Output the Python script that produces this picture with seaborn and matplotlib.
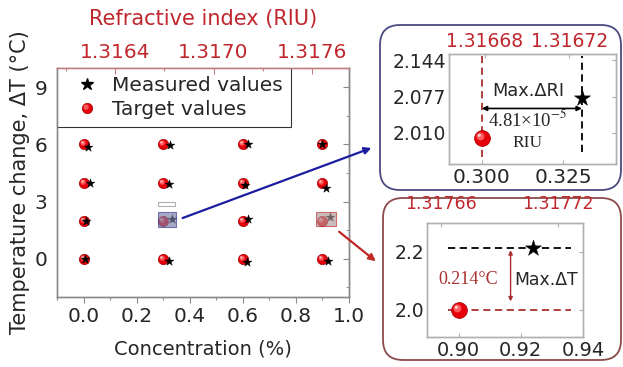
import numpy as np
import pandas as pd
import seaborn as sns
import matplotlib
matplotlib.use("Agg")
import matplotlib.pyplot as plt
from matplotlib.markers import MarkerStyle
from matplotlib.transforms import Affine2D
from matplotlib.patches import FancyBboxPatch, Rectangle, FancyArrowPatch
from matplotlib.lines import Line2D
from matplotlib.legend_handler import HandlerTuple
from matplotlib.ticker import MultipleLocator

# ---------------- data ----------------
target_conc = [0.0, 0.3, 0.6, 0.9] * 4
target_temp = [0] * 4 + [2] * 4 + [4] * 4 + [6] * 4
meas_conc = [0.005, 0.321, 0.615, 0.922,
             0.011, 0.333, 0.621, 0.928,
             0.024, 0.321, 0.609, 0.914,
             0.018, 0.327, 0.618, 0.900]
meas_temp = [0.00, -0.10, -0.15, -0.12,
             2.00, 2.07, 2.10, 2.20,
             4.00, 3.91, 3.88, 3.73,
             5.88, 5.95, 6.03, 6.00]

main_xticks = [0.0, 0.2, 0.4, 0.6, 0.8, 1.0]
main_yticks = [0, 3, 6, 9]
ri_ticks = [1.3164, 1.3170, 1.3176]
ri_labels = ["1.3164", "1.3170", "1.3176"]

in1_target_conc = [0.300]
in1_target_temp = [2.000]
in1_meas_conc = [0.3308]
in1_meas_temp = [2.075]
in1_xticks = [0.300, 0.325]
in1_xlabels = ["0.300", "0.325"]
in1_yticks = [2.010, 2.077, 2.144]
in1_ylabels = ["2.010", "2.077", "2.144"]
in1_ri_ticks = [1.31668, 1.31672]
in1_ri_labels = ["1.31668", "1.31672"]

in2_target_conc = [0.900]
in2_target_temp = [2.000]
in2_meas_conc = [0.924]
in2_meas_temp = [2.214]
in2_xticks = [0.90, 0.92, 0.94]
in2_xlabels = ["0.90", "0.92", "0.94"]
in2_yticks = [2.0, 2.2]
in2_ylabels = ["2.0", "2.2"]
in2_ri_ticks = [1.31766, 1.31772]
in2_ri_labels = ["1.31766", "1.31772"]

# ---------------- style ----------------
sns.set_style("white")
plt.rcParams['font.family'] = ['DejaVu Sans']
plt.rcParams['mathtext.fontset'] = 'stix'
SERIF = ['Liberation Serif', 'DejaVu Serif']
RED = '#c0272d'
DARKRED = '#a8302f'
SPINE = '#8a8a8a'
W, H = 623, 367

fig = plt.figure(figsize=(W / 100, H / 100), dpi=100)


def rect(l, t, r, b):
    return [l / W, 1 - b / H, (r - l) / W, (b - t) / H]


def fpx(x, y):
    return (x / W, 1 - y / H)


def spheres(ax, x, y, s):
    sns.scatterplot(x=x, y=y, ax=ax, s=s, color='#e5000c', edgecolor='#a00000',
                    linewidth=0.5, zorder=3, legend=False)
    hl = MarkerStyle('o', transform=Affine2D().scale(0.5).translate(-0.13, 0.13))
    ax.scatter(x, y, s=s, marker=hl, color='#ff5a5a', linewidths=0, zorder=4)
    hl2 = MarkerStyle('o', transform=Affine2D().scale(0.2).translate(-0.2, 0.2))
    ax.scatter(x, y, s=s, marker=hl2, color='#ffd0d0', linewidths=0, zorder=5)


def stars(ax, x, y, s):
    sns.scatterplot(x=x, y=y, ax=ax, s=s, marker='*', color='black',
                    edgecolor='black', linewidth=0.3, zorder=6, legend=False)


def style_axes(ax, spine_color=SPINE, tick_len=4):
    for sp in ax.spines.values():
        sp.set_color(spine_color)
        sp.set_linewidth(1.0)
    ax.tick_params(which='both', color=spine_color, width=0.8)
    ax.tick_params(which='major', length=tick_len)
    ax.tick_params(which='minor', length=tick_len * 0.6)


# ---------------- main axes ----------------
ax = fig.add_axes(rect(57, 68, 349, 297))
df_t = pd.DataFrame({'conc': target_conc, 'temp': target_temp})
df_m = pd.DataFrame({'conc': meas_conc, 'temp': meas_temp})
spheres(ax, df_t['conc'], df_t['temp'], 55)
stars(ax, df_m['conc'], df_m['temp'], 45)
ax.set_xlim(-0.1, 1.0)
ax.set_ylim(-2, 10)
ax.set_xticks(main_xticks)
ax.set_xticklabels([f"{v:.1f}" for v in main_xticks])
ax.set_yticks(main_yticks)
ax.xaxis.set_minor_locator(MultipleLocator(0.1))
ax.yaxis.set_minor_locator(MultipleLocator(1.5))
style_axes(ax)
ax.tick_params(which='both', direction='out', labelsize=14.5, pad=3)
ax.set_xlabel("Concentration (%)", fontsize=14, labelpad=10)
ax.set_ylabel("Temperature change, ΔT (°C)", fontsize=15, labelpad=3)
ax.spines['top'].set_color('#c08080')

axr = ax.secondary_yaxis('right')
axr.set_yticks(main_yticks)
axr.yaxis.set_minor_locator(MultipleLocator(1.5))
axr.tick_params(which='both', direction='in', labelright=False, color=SPINE)
axr.tick_params(which='major', length=4)
axr.tick_params(which='minor', length=2.4)
axr.spines['right'].set_color(SPINE)

axt = ax.twiny()
axt.set_xlim(1.316047, 1.317825)
axt.set_xticks(ri_ticks)
axt.set_xticklabels(ri_labels)
axt.xaxis.set_minor_locator(MultipleLocator(0.0003))
style_axes(axt)
axt.spines['top'].set_color('#c08080')
axt.tick_params(which='both', direction='in', labelsize=14.5, labelcolor=RED,
                color='#c08080', pad=4)
axt.set_xlabel("Refractive index (RIU)", fontsize=15, color=RED, labelpad=13)

# legend
sphere_h = Line2D([], [], ls='none', marker='o', markersize=7.5, color='#e5000c',
                  markeredgecolor='#a00000', markeredgewidth=0.5)
sphere_hl = Line2D([], [], ls='none',
                   marker=MarkerStyle('o', transform=Affine2D().scale(0.5).translate(-0.13, 0.13)),
                   markersize=7.5, color='#ff5a5a', markeredgewidth=0)
star_h = Line2D([], [], ls='none', marker='*', markersize=9, color='black')
leg = ax.legend([star_h, (sphere_h, sphere_hl)], ["Measured values", "Target values"],
                handler_map={tuple: HandlerTuple(ndivide=1, pad=0)},
                loc='upper left', bbox_to_anchor=(0, 1), borderaxespad=0,
                fontsize=14.5, frameon=True, fancybox=False, edgecolor='black',
                handletextpad=0.15, handlelength=2.2, borderpad=0.4, labelspacing=0.25)
leg.get_frame().set_linewidth(0.8)
leg.set_zorder(10)

# highlight boxes on the main plot
ax.add_patch(Rectangle((0.279, 1.69), 0.071, 0.75, facecolor='#7a7fa8', alpha=0.65,
                       edgecolor='#303a90', lw=0.8, zorder=7))
ax.add_patch(Rectangle((0.282, 2.77), 0.064, 0.23, facecolor='white',
                       edgecolor='#b0b0b0', lw=0.8, zorder=7))
ax.add_patch(Rectangle((0.875, 1.73), 0.076, 0.75, facecolor='#b09a9a', alpha=0.65,
                       edgecolor='#c03030', lw=0.8, zorder=7))

# ---------------- rounded boxes ----------------
box1 = FancyBboxPatch((3.80, 1.77), 2.41, 1.65,
                      boxstyle='round,pad=0,rounding_size=0.2',
                      transform=fig.dpi_scale_trans, facecolor='white',
                      edgecolor='#4b4a80', lw=1.3, zorder=-1)
box2 = FancyBboxPatch((3.83, 0.07), 2.38, 1.62,
                      boxstyle='round,pad=0,rounding_size=0.2',
                      transform=fig.dpi_scale_trans, facecolor='white',
                      edgecolor='#8b4a4a', lw=1.3, zorder=-1)
fig.add_artist(box1)
fig.add_artist(box2)

# ---------------- inset 1 ----------------
a1 = fig.add_axes(rect(449, 54, 616, 164))
a1.set_xlim(0.2899, 0.3413)
a1.set_ylim(1.952, 2.156)
a1.vlines(in1_target_conc, 1.965, 2.152, colors=DARKRED, linestyles=(0, (4, 2.5)), lw=1.3, zorder=2)
a1.vlines(in1_meas_conc, 1.975, 2.152, colors='black', linestyles=(0, (4, 2.5)), lw=1.3, zorder=2)
spheres(a1, in1_target_conc, in1_target_temp, 130)
stars(a1, in1_meas_conc, in1_meas_temp, 150)
a1.annotate('', xy=(in1_target_conc[0], 2.055), xytext=(in1_meas_conc[0], 2.055),
            arrowprops=dict(arrowstyle='<|-|>', color='black', lw=1.2,
                            mutation_scale=7, shrinkA=0, shrinkB=0))
a1.text(0.3142, 2.088, "Max.ΔRI", ha='center', va='center', fontsize=12.8)
a1.text(0.3142, 2.034, "4.81×10$^{-5}$", ha='center', va='center', fontsize=13.5,
        family=SERIF)
a1.text(0.3142, 1.991, "RIU", ha='center', va='center', fontsize=12.5, family=SERIF)
a1.set_xticks(in1_xticks)
a1.set_xticklabels(in1_xlabels)
a1.set_yticks(in1_yticks)
a1.set_yticklabels(in1_ylabels)
style_axes(a1, '#b0b0b0', 3)
a1.tick_params(which='both', direction='in', right=True, labelsize=14.5, pad=3)
a1.tick_params(axis='y', labelsize=13.5, pad=2)
a1t = a1.twiny()
a1t.set_xlim(1.316663, 1.316742)
a1t.set_xticks(in1_ri_ticks)
a1t.set_xticklabels(in1_ri_labels)
style_axes(a1t, '#b0b0b0', 3)
a1t.tick_params(direction='in', labelsize=13.5, labelcolor=RED, pad=2)

# ---------------- inset 2 ----------------
a2 = fig.add_axes(rect(427, 223, 583, 337))
a2.set_xlim(0.8898, 0.94)
a2.set_ylim(1.905, 2.299)
a2.hlines(in2_meas_temp, 0.8965, 0.936, colors='black', linestyles=(0, (4, 2.5)), lw=1.3, zorder=2)
a2.hlines(in2_target_temp, 0.8965, 0.936, colors=DARKRED, linestyles=(0, (4, 2.5)), lw=1.3, zorder=2)
spheres(a2, in2_target_conc, in2_target_temp, 130)
stars(a2, in2_meas_conc, in2_meas_temp, 150)
a2.annotate('', xy=(0.9167, 2.205), xytext=(0.9167, 2.028),
            arrowprops=dict(arrowstyle='<|-|>', color=DARKRED, lw=1.0,
                            mutation_scale=6, shrinkA=0, shrinkB=0))
a2.text(0.9032, 2.102, "0.214°C", ha='center', va='center', fontsize=13, color=DARKRED,
        family=SERIF)
a2.text(0.9282, 2.102, "Max.ΔT", ha='center', va='center', fontsize=12.4)
a2.set_xticks(in2_xticks)
a2.set_xticklabels(in2_xlabels)
a2.set_yticks(in2_yticks)
a2.set_yticklabels(in2_ylabels)
style_axes(a2, '#b0b0b0', 3)
a2.tick_params(which='both', direction='in', right=True, labelsize=14, pad=3)
a2.tick_params(axis='y', labelsize=13.5, pad=2)
a2t = a2.twiny()
a2t.set_xlim(1.317653, 1.317733)
a2t.set_xticks(in2_ri_ticks)
a2t.set_xticklabels(in2_ri_labels)
style_axes(a2t, '#b0b0b0', 3)
a2t.tick_params(direction='in', labelsize=12.5, labelcolor=RED, pad=7)

# ---------------- connecting arrows ----------------
fig.add_artist(FancyArrowPatch(fpx(180, 219), fpx(374, 147), transform=fig.transFigure,
                               arrowstyle='-|>', mutation_scale=10, lw=1.6,
                               color='#1c1ca0', zorder=20))
fig.add_artist(FancyArrowPatch(fpx(337, 230), fpx(378, 263), transform=fig.transFigure,
                               arrowstyle='-|>', mutation_scale=10, lw=1.6,
                               color='#c02828', zorder=20))

fig.savefig("out.png", dpi=100)
